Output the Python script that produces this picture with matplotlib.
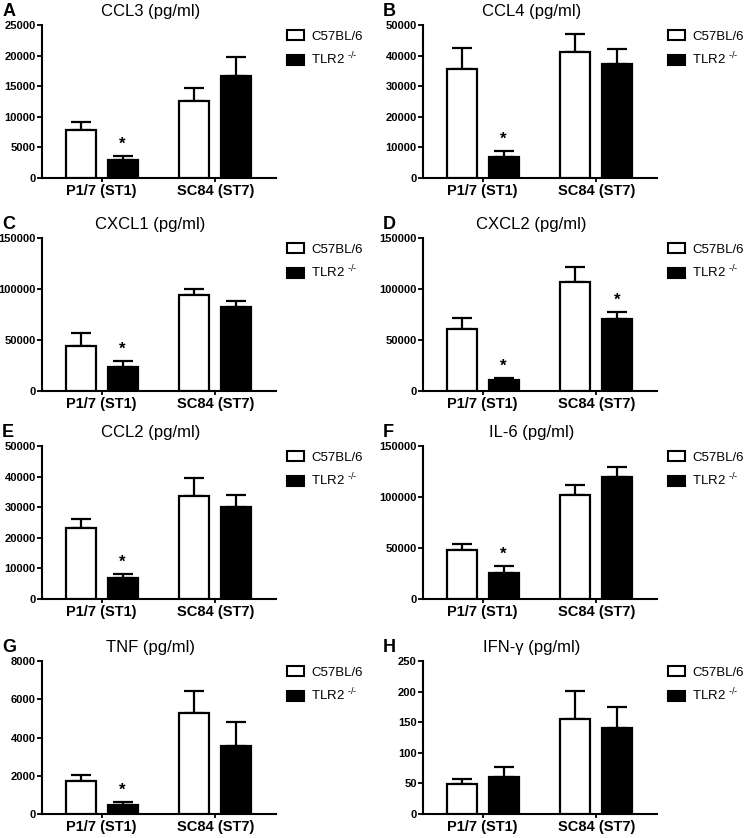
import matplotlib
matplotlib.use("Agg")
import matplotlib.pyplot as plt
from matplotlib.patches import Patch
import numpy as np

plt.rcParams['font.family'] = ['Liberation Sans', 'DejaVu Sans']
plt.rcParams['mathtext.fontset'] = 'custom'
plt.rcParams['mathtext.rm'] = 'Liberation Sans'

groups = ["P1/7 (ST1)", "SC84 (ST7)"]
strains = ["C57BL/6", "TLR2 $^{\\text{-/-}}$"]

letters = ["A", "B", "C", "D", "E", "F", "G", "H"]
titles = ["CCL3 (pg/ml)", "CCL4 (pg/ml)", "CXCL1 (pg/ml)", "CXCL2 (pg/ml)",
          "CCL2 (pg/ml)", "IL-6 (pg/ml)", "TNF (pg/ml)", "IFN-γ (pg/ml)"]
ymax = [25000, 50000, 150000, 150000, 50000, 150000, 8000, 250]
ystep = [5000, 10000, 50000, 50000, 10000, 50000, 2000, 50]

# mean values [P1/7, SC84]
wt_mean = [[7880, 12600], [35700, 41300], [44500, 93700], [60700, 107000],
           [23050, 33550], [48100, 101900], [1705, 5270], [48.8, 156]]
wt_err = [[1200, 2070], [6900, 5600], [12800, 6200], [10800, 14800],
          [2950, 5950], [5900, 10100], [335, 1165], [9.2, 45]]
ko_mean = [[2990, 16740], [6900, 37100], [23900, 82500], [10500, 70600],
           [6700, 30000], [25500, 119200], [490, 3530], [60.3, 141]]
ko_err = [[650, 3100], [2050, 5150], [5600, 5300], [2600, 7200],
          [1400, 4100], [7300, 10200], [125, 1270], [17, 34]]
# significance (*) for TLR2 bars [P1/7, SC84]
ko_sig = [[True, False], [True, False], [True, False], [True, True],
          [True, False], [True, False], [True, False], [False, False]]

W, H = 749, 838
fig = plt.figure(figsize=(W / 100, H / 100), dpi=100)

col_left = [42, 423]
row_top = [25, 238, 446, 661]
ax_w, ax_h = 234, 153

x = np.arange(len(groups))
bw = 0.263
off = 0.184
lw = 1.6

for i in range(8):
    r, c = divmod(i, 2)
    left = col_left[c] / W
    bottom = 1 - (row_top[r] + ax_h) / H
    ax = fig.add_axes([left, bottom, ax_w / W, ax_h / H])

    ax.bar(x - off, wt_mean[i], bw, color='white', edgecolor='black', linewidth=lw, zorder=3,
           label=strains[0])
    ax.bar(x + off, ko_mean[i], bw, color='black', edgecolor='black', linewidth=lw, zorder=3,
           label=strains[1])
    ax.errorbar(x - off, wt_mean[i], yerr=[np.zeros(2), wt_err[i]], fmt='none',
                ecolor='black', elinewidth=lw, capsize=7.5, capthick=lw, zorder=2)
    ax.errorbar(x + off, ko_mean[i], yerr=[np.zeros(2), ko_err[i]], fmt='none',
                ecolor='black', elinewidth=lw, capsize=7.5, capthick=lw, zorder=2)

    for j in range(2):
        if ko_sig[i][j]:
            ax.annotate("*", xy=(x[j] + off, ko_mean[i][j] + ko_err[i][j]),
                        xytext=(0, 3), textcoords='offset points',
                        ha='center', va='bottom', fontsize=12, fontweight='bold')

    ax.set_xlim(-0.526, 1.535)
    ax.set_ylim(0, ymax[i])
    ax.set_yticks(np.arange(0, ymax[i] + ystep[i] / 2, ystep[i]))
    ax.set_xticks(x)
    ax.set_xticklabels(groups, fontsize=10.5, fontweight='bold')
    for lab in ax.get_yticklabels():
        lab.set_fontweight('bold')
        lab.set_fontsize(8)
    ax.tick_params(axis='y', direction='out', length=3.5, width=1.3, pad=1)
    ax.tick_params(axis='x', direction='out', length=3, width=1.3, pad=1.5)
    for s in ['top', 'right']:
        ax.spines[s].set_visible(False)
    for s in ['left', 'bottom']:
        ax.spines[s].set_linewidth(1.5)

    ax.text(0.464, 1.04, titles[i], transform=ax.transAxes, ha='center', va='bottom',
            fontsize=12)
    ax.text(-0.17, 1.035, letters[i], transform=ax.transAxes, ha='left', va='bottom',
            fontsize=13, fontweight='bold')

    handles = [Patch(facecolor='white', edgecolor='black', linewidth=1.5),
               Patch(facecolor='black', edgecolor='black', linewidth=1.5)]
    ax.legend(handles, strains, loc='upper left', bbox_to_anchor=(1.047, 0.965),
              frameon=False, borderaxespad=0, borderpad=0, fontsize=9.5,
              handlelength=1.3, handleheight=0.75, handletextpad=0.55,
              labelspacing=0.6)

fig.savefig("out.png", dpi=100)
